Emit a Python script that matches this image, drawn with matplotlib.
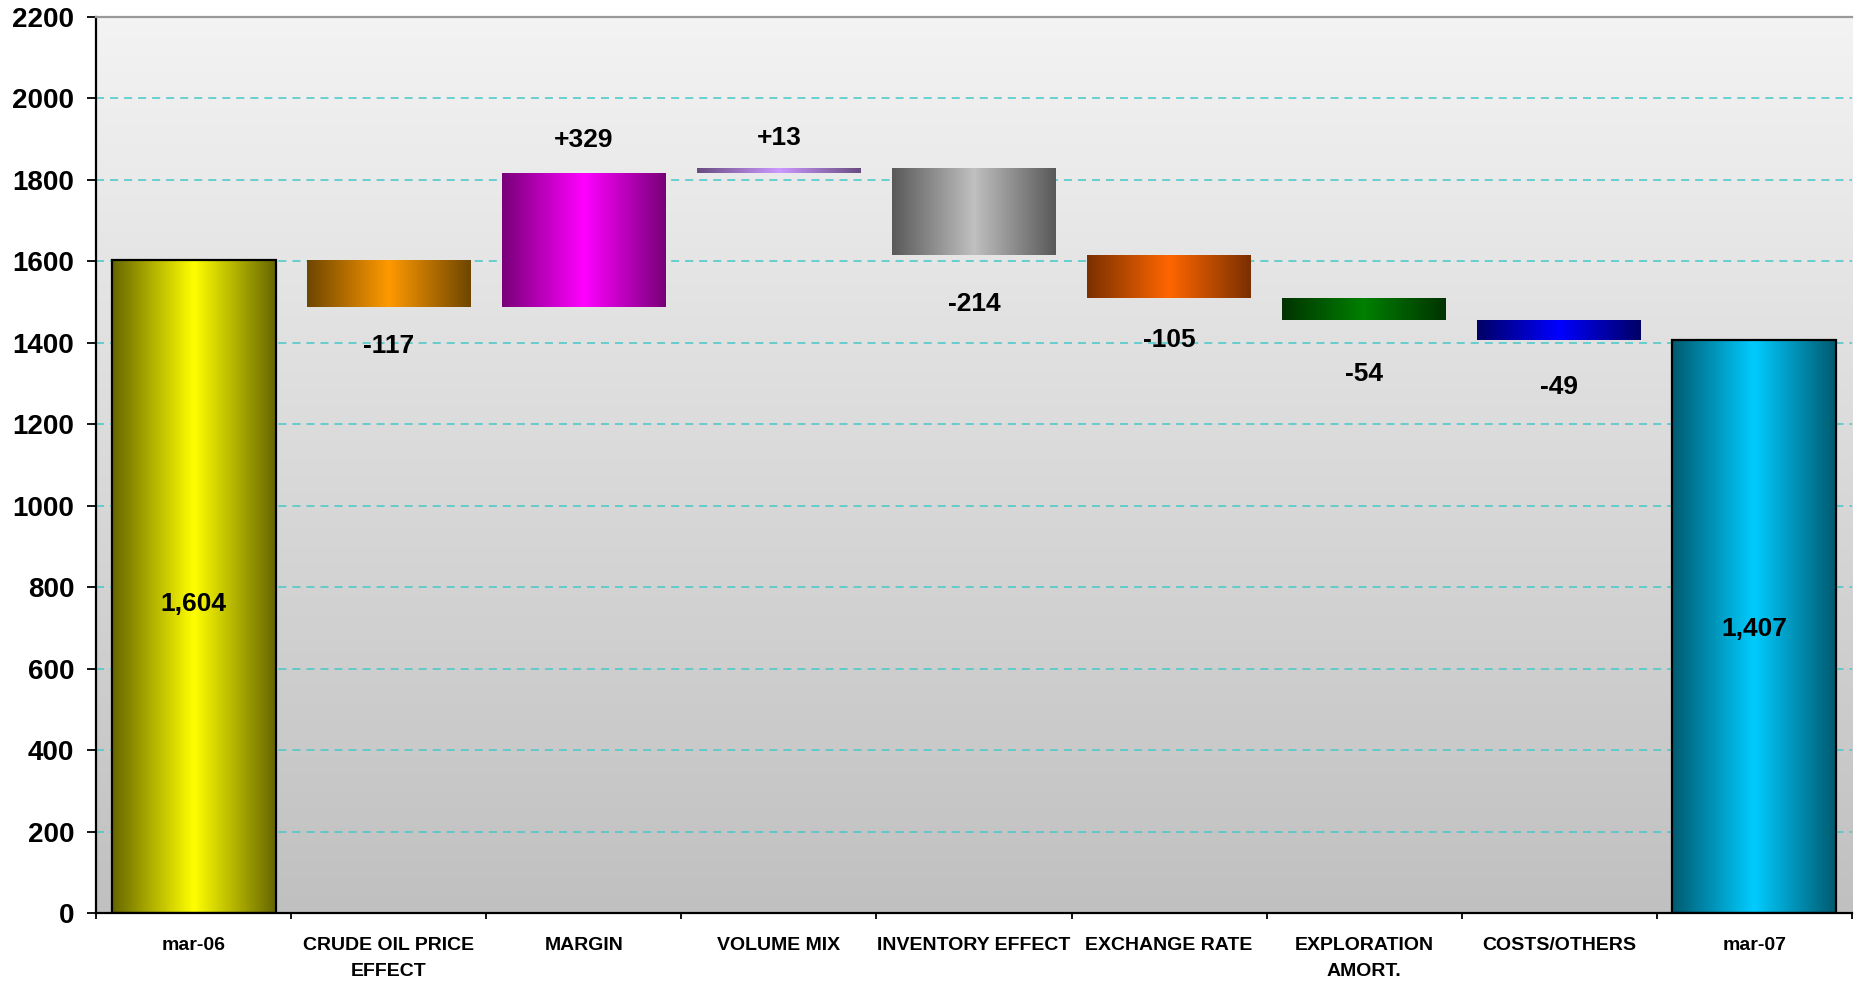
import numpy as np
import matplotlib
matplotlib.use("Agg")
import matplotlib.pyplot as plt
from matplotlib.colors import to_rgb

plt.rcParams['font.family'] = ['Liberation Sans', 'DejaVu Sans']
plt.rcParams['font.weight'] = 'bold'
plt.rcParams['lines.scale_dashes'] = False

# waterfall data
categories = ['mar-06', 'CRUDE OIL PRICE\nEFFECT', 'MARGIN', 'VOLUME MIX',
              'INVENTORY EFFECT', 'EXCHANGE RATE', 'EXPLORATION\nAMORT.',
              'COSTS/OTHERS', 'mar-07']
start_value = 1604
changes = [-117, 329, 13, -214, -105, -54, -49]
end_value = 1407

# dark edge / bright centre of each bar gradient
dark_colors = ['#666600', '#6e4600', '#780078', '#684c80', '#595959',
               '#7a3000', '#003300', '#000066', '#005a70']
bright_colors = ['#ffff00', '#ff9900', '#ff00ff', '#cc99ff', '#c0c0c0',
                 '#ff6600', '#008000', '#0000ff', '#00ccff']

# label offsets from bar end (points)
label_offsets = [28, 24, 22, 35, 30, 39, 34]
total_offsets = [-13, -2]

# bottoms / heights for floating bars
bottoms = [0]
heights = [start_value]
level = start_value
for c in changes:
    bottoms.append(min(level, level + c))
    heights.append(abs(c))
    level += c
bottoms.append(0)
heights.append(end_value)

x = np.arange(len(categories))

fig = plt.figure(figsize=(18.54, 9.84), dpi=100)
ax = fig.add_axes([96 / 1854, 71 / 984, 1756 / 1854, 896 / 984])

# background: vertical grey gradient
bg = np.linspace(0xc0, 0xf3, 256)[:, None] / 255.0
ax.imshow(np.dstack([bg, bg, bg]), extent=[0, 1, 0, 1], transform=ax.transAxes,
          aspect='auto', origin='lower', zorder=0)

# dashed grid
for yv in range(200, 2200, 200):
    ax.axhline(yv, color='#4cc9c9', lw=1.15, dashes=(5.8, 4.3), zorder=1)

bars = ax.bar(x, heights, bottom=bottoms, width=0.84, color='none',
              edgecolor='none', zorder=2)

t = np.linspace(0, 1, 200)
shape = 1 - np.abs(2 * t - 1)
for i, patch in enumerate(bars):
    d = np.array(to_rgb(dark_colors[i]))
    b = np.array(to_rgb(bright_colors[i]))
    row = d[None, :] + (b - d)[None, :] * shape[:, None]
    img = np.repeat(row[None, :, :], 2, axis=0)
    x0, y0 = patch.get_x(), patch.get_y()
    im = ax.imshow(img, extent=[x0, x0 + patch.get_width(), y0, y0 + patch.get_height()],
                   aspect='auto', origin='lower', zorder=2, interpolation='bilinear')
    im.set_clip_path(patch)

# totals get a black outline
for i in (0, len(categories) - 1):
    p = bars[i]
    ax.add_patch(plt.Rectangle((p.get_x(), p.get_y()), p.get_width(), p.get_height(),
                               fill=False, edgecolor='black', lw=1.6, zorder=3))

# value labels
for k, val, off in ((0, start_value, total_offsets[0]), (len(categories) - 1, end_value, total_offsets[1])):
    ax.annotate(f'{val:,}', (x[k], val / 2), xytext=(0, off), textcoords='offset points',
                ha='center', va='center', fontsize=19, fontweight='bold', zorder=4)
for i, c in enumerate(changes):
    k = i + 1
    if c > 0:
        ax.annotate(f'+{c}', (x[k], bottoms[k] + heights[k]), xytext=(0, label_offsets[i]),
                    textcoords='offset points', ha='center', va='center',
                    fontsize=19, fontweight='bold', zorder=4)
    else:
        ax.annotate(f'{c}', (x[k], bottoms[k]), xytext=(0, -label_offsets[i]),
                    textcoords='offset points', ha='center', va='center',
                    fontsize=19, fontweight='bold', zorder=4)

ax.set_xlim(-0.5, len(categories) - 0.5)
ax.set_ylim(0, 2200)
ax.set_yticks(range(0, 2201, 200))
ax.tick_params(axis='y', labelsize=20, length=6.5, width=1.3, pad=9)
ax.set_xticks(x)
ax.set_xticklabels(categories, fontsize=14, fontweight='bold', linespacing=1.75)
ax.tick_params(axis='x', length=0, pad=17)
ax.set_xticks(np.arange(-0.5, len(categories), 1), minor=True)
ax.tick_params(axis='x', which='minor', length=4.5, width=1.3)
for lbl in ax.get_yticklabels():
    lbl.set_fontweight('bold')

for s in ('left', 'bottom'):
    ax.spines[s].set_linewidth(1.6)
ax.spines['top'].set_color('#9a9a9a')
ax.spines['top'].set_linewidth(1.6)
ax.spines['right'].set_visible(False)

fig.savefig('out.png', dpi=100)
